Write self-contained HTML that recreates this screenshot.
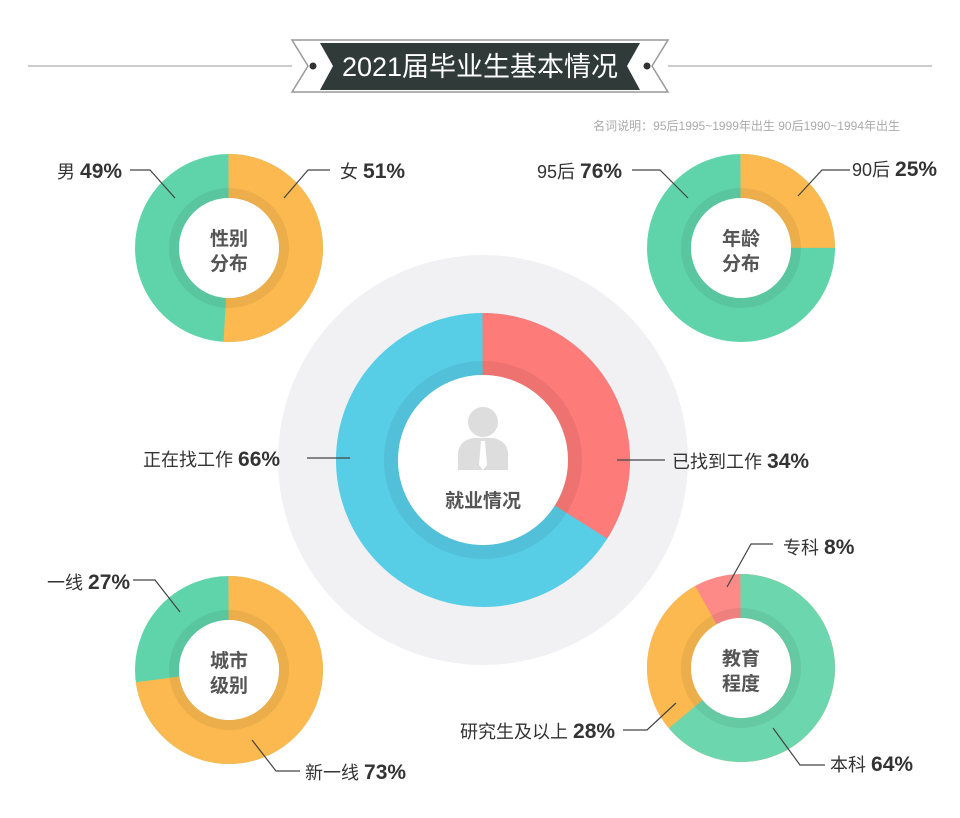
<!DOCTYPE html>
<html><head><meta charset="utf-8"><style>
html,body{margin:0;padding:0;background:#fff;}
svg{display:block;font-family:"Liberation Sans","Noto Sans CJK SC",sans-serif;}
.l{font-size:18px;fill:#333;}
.b{font-weight:bold;font-size:21px;fill:#333;}
.c{font-size:19px;font-weight:bold;fill:#555;}
.ln{fill:none;stroke:#444;stroke-width:1.2;}
</style></head><body>
<svg width="960" height="818" viewBox="0 0 960 818">
<line x1="28" y1="66" x2="292" y2="66" stroke="#bbb" stroke-width="1.5"/>
<line x1="668" y1="66" x2="932" y2="66" stroke="#bbb" stroke-width="1.5"/>
<polygon points="292,40 668,40 652,66 668,92 292,92 308,66" fill="#fff" stroke="#999" stroke-width="1.5"/>
<polygon points="320,43 640,43 627,66 640,90 320,90 333,66" fill="#2f3a39"/>
<circle cx="313" cy="66" r="3.5" fill="#333"/>
<circle cx="647" cy="66" r="3.5" fill="#333"/>
<text x="480" y="76" text-anchor="middle" font-size="27" fill="#fff">2021届毕业生基本情况</text>
<text x="900" y="130" text-anchor="end" font-size="12" fill="#aaa">名词说明：95后1995~1999年出生  90后1990~1994年出生</text>

<circle cx="483" cy="460" r="205" fill="#f1f1f3"/>
<g transform="rotate(-90 483 460)">
<circle cx="483" cy="460" r="116" fill="none" stroke="#57cde6" stroke-width="62"/>
<circle cx="483" cy="460" r="116" fill="none" stroke="#fd7b78" stroke-width="62" pathLength="100" stroke-dasharray="34 66"/>
</g>
<circle cx="483" cy="460" r="92" fill="none" stroke="rgba(0,0,0,0.06)" stroke-width="14"/>
<circle cx="483" cy="460" r="85" fill="#fff"/>
<circle cx="483" cy="422" r="15" fill="#ddd"/>
<path d="M458,470 L458,452 Q460,440 474,438 L492,438 Q506,440 508,452 L508,470 Z" fill="#ddd"/>
<polygon points="481,441 485,441 487,465 483,470 479,465" fill="#fff"/>
<text x="483" y="507" text-anchor="middle" class="c" font-size="21">就业情况</text>
<path class="ln" d="M307,458 L350,458"/>
<path class="ln" d="M617,460 L665,460"/>
<text x="143" y="466" class="l" font-size="20">正在找工作 <tspan class="b" font-size="23">66%</tspan></text>
<text x="672" y="468" class="l" font-size="20">已找到工作 <tspan class="b" font-size="23">34%</tspan></text>

<g transform="rotate(-90 229 248)">
<circle cx="229" cy="248" r="72" fill="none" stroke="#5fd3a9" stroke-width="44"/>
<circle cx="229" cy="248" r="72" fill="none" stroke="#fbb94f" stroke-width="44" pathLength="100" stroke-dasharray="51 49"/>
</g>
<circle cx="229" cy="248" r="55" fill="none" stroke="rgba(0,0,0,0.06)" stroke-width="10"/>
<circle cx="229" cy="248" r="50" fill="#fff"/>
<text x="229" y="245" text-anchor="middle" class="c">性别</text>
<text x="229" y="270" text-anchor="middle" class="c">分布</text>
<path class="ln" d="M130,170 L150,170 L175,198"/>
<path class="ln" d="M330,170 L308,170 L284,198"/>
<text x="57" y="178" class="l">男 <tspan class="b">49%</tspan></text>
<text x="340" y="178" class="l">女 <tspan class="b">51%</tspan></text>

<g transform="rotate(-90 741 248)">
<circle cx="741" cy="248" r="72" fill="none" stroke="#5fd3a9" stroke-width="44"/>
<circle cx="741" cy="248" r="72" fill="none" stroke="#fbb94f" stroke-width="44" pathLength="100" stroke-dasharray="25 75"/>
</g>
<circle cx="741" cy="248" r="55" fill="none" stroke="rgba(0,0,0,0.06)" stroke-width="10"/>
<circle cx="741" cy="248" r="50" fill="#fff"/>
<text x="741" y="245" text-anchor="middle" class="c">年龄</text>
<text x="741" y="270" text-anchor="middle" class="c">分布</text>
<path class="ln" d="M632,170 L660,170 L688,198"/>
<path class="ln" d="M850,170 L822,170 L798,196"/>
<text x="537" y="178" class="l">95后 <tspan class="b">76%</tspan></text>
<text x="852" y="176" class="l">90后 <tspan class="b">25%</tspan></text>

<g transform="rotate(-90 229 670)">
<circle cx="229" cy="670" r="72" fill="none" stroke="#5fd3a9" stroke-width="44"/>
<circle cx="229" cy="670" r="72" fill="none" stroke="#fbb94f" stroke-width="44" pathLength="100" stroke-dasharray="73 27"/>
</g>
<circle cx="229" cy="670" r="55" fill="none" stroke="rgba(0,0,0,0.06)" stroke-width="10"/>
<circle cx="229" cy="670" r="50" fill="#fff"/>
<text x="229" y="667" text-anchor="middle" class="c">城市</text>
<text x="229" y="692" text-anchor="middle" class="c">级别</text>
<path class="ln" d="M133,580 L155,580 L180,612"/>
<path class="ln" d="M300,771 L276,771 L252,740"/>
<text x="47" y="589" class="l">一线 <tspan class="b">27%</tspan></text>
<text x="305" y="779" class="l">新一线 <tspan class="b">73%</tspan></text>

<g transform="rotate(-90 741 668)">
<circle cx="741" cy="668" r="72" fill="none" stroke="#fd8a86" stroke-width="44"/>
<circle cx="741" cy="668" r="72" fill="none" stroke="#fbb94f" stroke-width="44" pathLength="100" stroke-dasharray="92 8"/>
<circle cx="741" cy="668" r="72" fill="none" stroke="#6cd6ae" stroke-width="44" pathLength="100" stroke-dasharray="64 36"/>
</g>
<circle cx="741" cy="668" r="55" fill="none" stroke="rgba(0,0,0,0.06)" stroke-width="10"/>
<circle cx="741" cy="668" r="50" fill="#fff"/>
<text x="741" y="665" text-anchor="middle" class="c">教育</text>
<text x="741" y="690" text-anchor="middle" class="c">程度</text>
<path class="ln" d="M773,544 L751,544 L727,587"/>
<path class="ln" d="M623,730 L647,730 L676,703"/>
<path class="ln" d="M825,765 L800,765 L773,728"/>
<text x="783" y="554" class="l">专科 <tspan class="b">8%</tspan></text>
<text x="460" y="738" class="l">研究生及以上 <tspan class="b">28%</tspan></text>
<text x="830" y="771" class="l">本科 <tspan class="b">64%</tspan></text>
</svg>
</body></html>
